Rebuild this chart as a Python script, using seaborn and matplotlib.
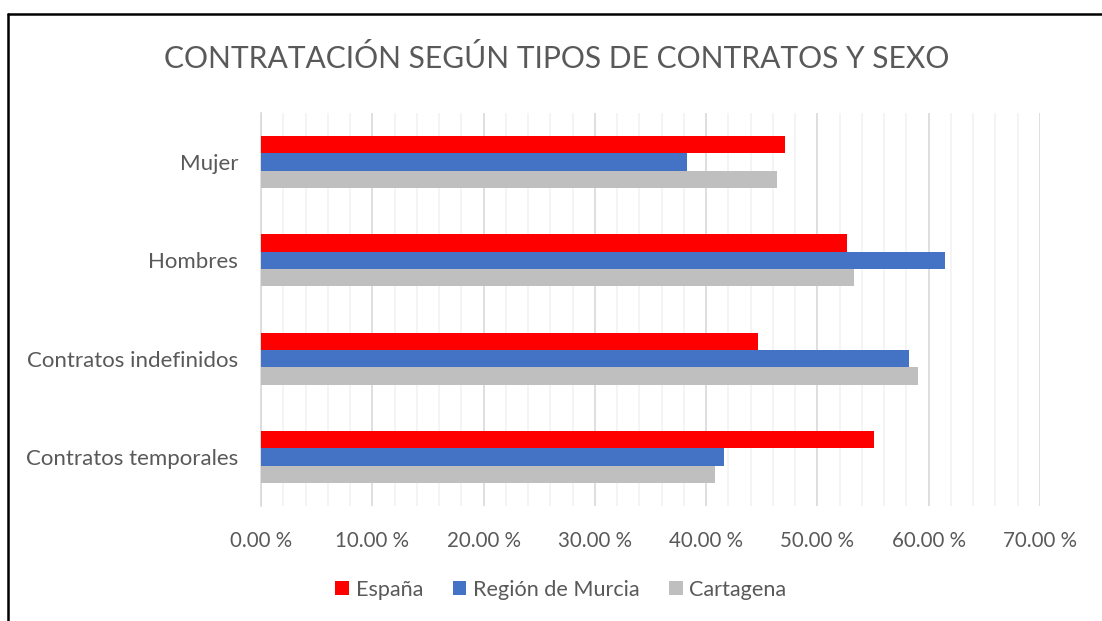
import matplotlib
matplotlib.use("Agg")
import matplotlib.pyplot as plt
import seaborn as sns
import pandas as pd
from matplotlib.patches import Patch
from matplotlib.lines import Line2D
from matplotlib.ticker import MultipleLocator, FuncFormatter

categories = ["Mujer", "Hombres", "Contratos indefinidos", "Contratos temporales"]
series = ["España", "Región de Murcia", "Cartagena"]
espana = [47.1, 52.7, 44.7, 55.1]
murcia = [38.3, 61.5, 58.2, 41.6]
cartagena = [46.4, 53.3, 59.0, 40.8]
colors = ["#FF0000", "#4472C4", "#BFBFBF"]
title = "CONTRATACIÓN SEGÚN TIPOS DE CONTRATOS Y SEXO"

rows = []
for name, vals in zip(series, [espana, murcia, cartagena]):
    for c, v in zip(categories, vals):
        rows.append({"cat": c, "serie": name, "val": v})
df = pd.DataFrame(rows)

sns.set_theme(style="white")
plt.rcParams["font.family"] = ["Lato", "DejaVu Sans"]
txt = "#595959"

fig = plt.figure(figsize=(11.02, 6.21), dpi=100)
ax = fig.add_axes([261 / 1102, 1 - 506 / 621, (1040 - 261) / 1102, (506 - 113) / 621])

sns.barplot(data=df, y="cat", x="val", hue="serie", order=categories,
            hue_order=series, palette=colors, orient="h", width=0.53,
            linewidth=0, saturation=1, ax=ax, legend=False, zorder=3)

ax.set_xlim(0, 70)
ax.set_ylim(len(categories) - 0.5, -0.5)
ax.xaxis.set_major_locator(MultipleLocator(10))
ax.xaxis.set_minor_locator(MultipleLocator(2))
ax.grid(which="minor", axis="x", color="#F2F2F2", linewidth=1.2, zorder=0)
ax.grid(which="major", axis="x", color="#D9D9D9", linewidth=1.2, zorder=0)
ax.set_axisbelow(True)
ax.xaxis.set_major_formatter(FuncFormatter(lambda v, p: f"{v:.2f} %"))
ax.tick_params(axis="x", which="both", length=0, labelsize=14.8, labelcolor=txt, pad=18)
ax.tick_params(axis="y", which="major", length=0, labelsize=16, labelcolor=txt, pad=16.5)
ax.set_yticks([i + 0.5 for i in range(-1, len(categories))], minor=True)
ax.tick_params(axis="y", which="minor", length=5, color="#D9D9D9", width=1.2, direction="out")
for s in ["top", "right", "bottom"]:
    ax.spines[s].set_visible(False)
ax.spines["left"].set_color("#D9D9D9")
ax.spines["left"].set_linewidth(1.2)
ax.set_xlabel("")
ax.set_ylabel("")

fig.text(557 / 1102, 1 - 58 / 621, title, ha="center", va="center",
         fontsize=21.6, color=txt, fontweight="normal")

handles = [Patch(facecolor=c, edgecolor="none", label=s) for c, s in zip(colors, series)]
fig.legend(handles=handles, loc="center", bbox_to_anchor=(561 / 1102, 1 - 590 / 621),
           ncol=3, frameon=False, fontsize=15.6, labelcolor=txt,
           handlelength=0.62, handleheight=0.62, handletextpad=0.32, columnspacing=1.36)

fig.add_artist(Line2D([8 / 1102, 8 / 1102], [0, 1 - 14 / 621], color="black", linewidth=1.8, transform=fig.transFigure))
fig.add_artist(Line2D([8 / 1102, 1], [1 - 14 / 621, 1 - 14 / 621], color="black", linewidth=1.8, transform=fig.transFigure))

fig.savefig("out.png", dpi=100, facecolor="white")
